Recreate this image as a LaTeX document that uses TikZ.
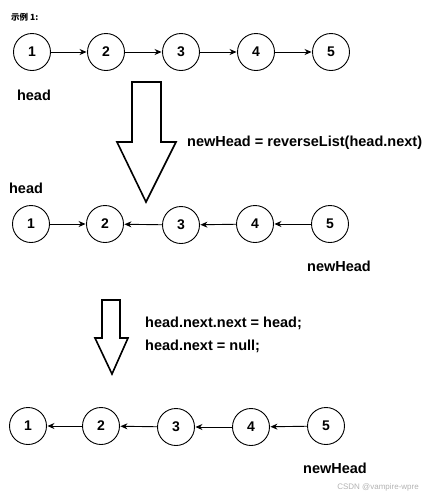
\documentclass[tikz,border=0pt]{standalone}
\usepackage{fontspec}
\setmainfont{Liberation Sans}
\newfontfamily\cjk{Noto Sans CJK SC}
\usetikzlibrary{arrows.meta}
\tikzset{
  x=1pt, y=-1pt,
  lnode/.style={circle, draw, line width=0.9pt, minimum size=37pt, inner sep=0pt, font=\fontsize{14}{16}\selectfont\bfseries},
  link/.style={draw, line width=0.9pt, -{Stealth[length=7pt,width=6pt]}, shorten >=0.5pt},
  lbl/.style={font=\fontsize{14.5}{17}\selectfont\bfseries, inner sep=0pt},
  bigarrow/.style={draw, line width=1.6pt, fill=white, line join=miter}
}
\begin{document}
\begin{tikzpicture}
\useasboundingbox (0,0) rectangle (424,499);
\node[font=\cjk\fontsize{8.5}{10}\selectfont\bfseries, anchor=west, inner sep=0pt] (title) at (11,17) {示例 1:};
% row 1
\node[lnode] (a1) at (32,52) {1};
\node[lnode] (a2) at (106,52) {2};
\node[lnode] (a3) at (181,52) {3};
\node[lnode] (a4) at (256,52) {4};
\node[lnode] (a5) at (331,52) {5};
\draw[link] (a1) -- (a2);
\draw[link] (a2) -- (a3);
\draw[link] (a3) -- (a4);
\draw[link] (a4) -- (a5);
\node[lbl] (h1) at (34,95) {head};
% big arrow 1
\draw[bigarrow] (132,82) -- (161,82) -- (161,142) -- (176,142) -- (146,202) -- (117,142) -- (132,142) -- cycle;
\node[lbl, anchor=west] (t1) at (187,143) {newHead = reverseList(head.next)};
% row 2
\node[lnode] (b1) at (31,224) {1};
\node[lnode] (b2) at (105,224) {2};
\node[lnode] (b3) at (181,225) {3};
\node[lnode] (b4) at (255,224) {4};
\node[lnode] (b5) at (330,224) {5};
\draw[link] (b1) -- (b2);
\draw[link] (b3) -- (b2);
\draw[link] (b4) -- (b3);
\draw[link] (b5) -- (b4);
\node[lbl] (h2) at (26,188) {head};
\node[lbl] (nh2) at (339,266) {newHead};
% big arrow 2
\draw[bigarrow] (102,300) -- (120,300) -- (120,338) -- (128,338) -- (112,374) -- (95,338) -- (102,338) -- cycle;
\node[lbl, anchor=west] (t2) at (145,323) {head.next.next = head;};
\node[lbl, anchor=west] (t3) at (145,346) {head.next = null;};
% row 3
\node[lnode] (c1) at (28,426) {1};
\node[lnode] (c2) at (101,426) {2};
\node[lnode] (c3) at (176,427) {3};
\node[lnode] (c4) at (251,427) {4};
\node[lnode] (c5) at (326,426) {5};
\draw[link] (c2) -- (c1);
\draw[link] (c3) -- (c2);
\draw[link] (c4) -- (c3);
\draw[link] (c5) -- (c4);
\node[lbl] (nh3) at (335,468) {newHead};
\node[font=\fontsize{8}{9}\selectfont, text=black!30, anchor=east, inner sep=0pt] (wm) at (419,487) {CSDN @vampire-wpre};
\end{tikzpicture}
\end{document}
